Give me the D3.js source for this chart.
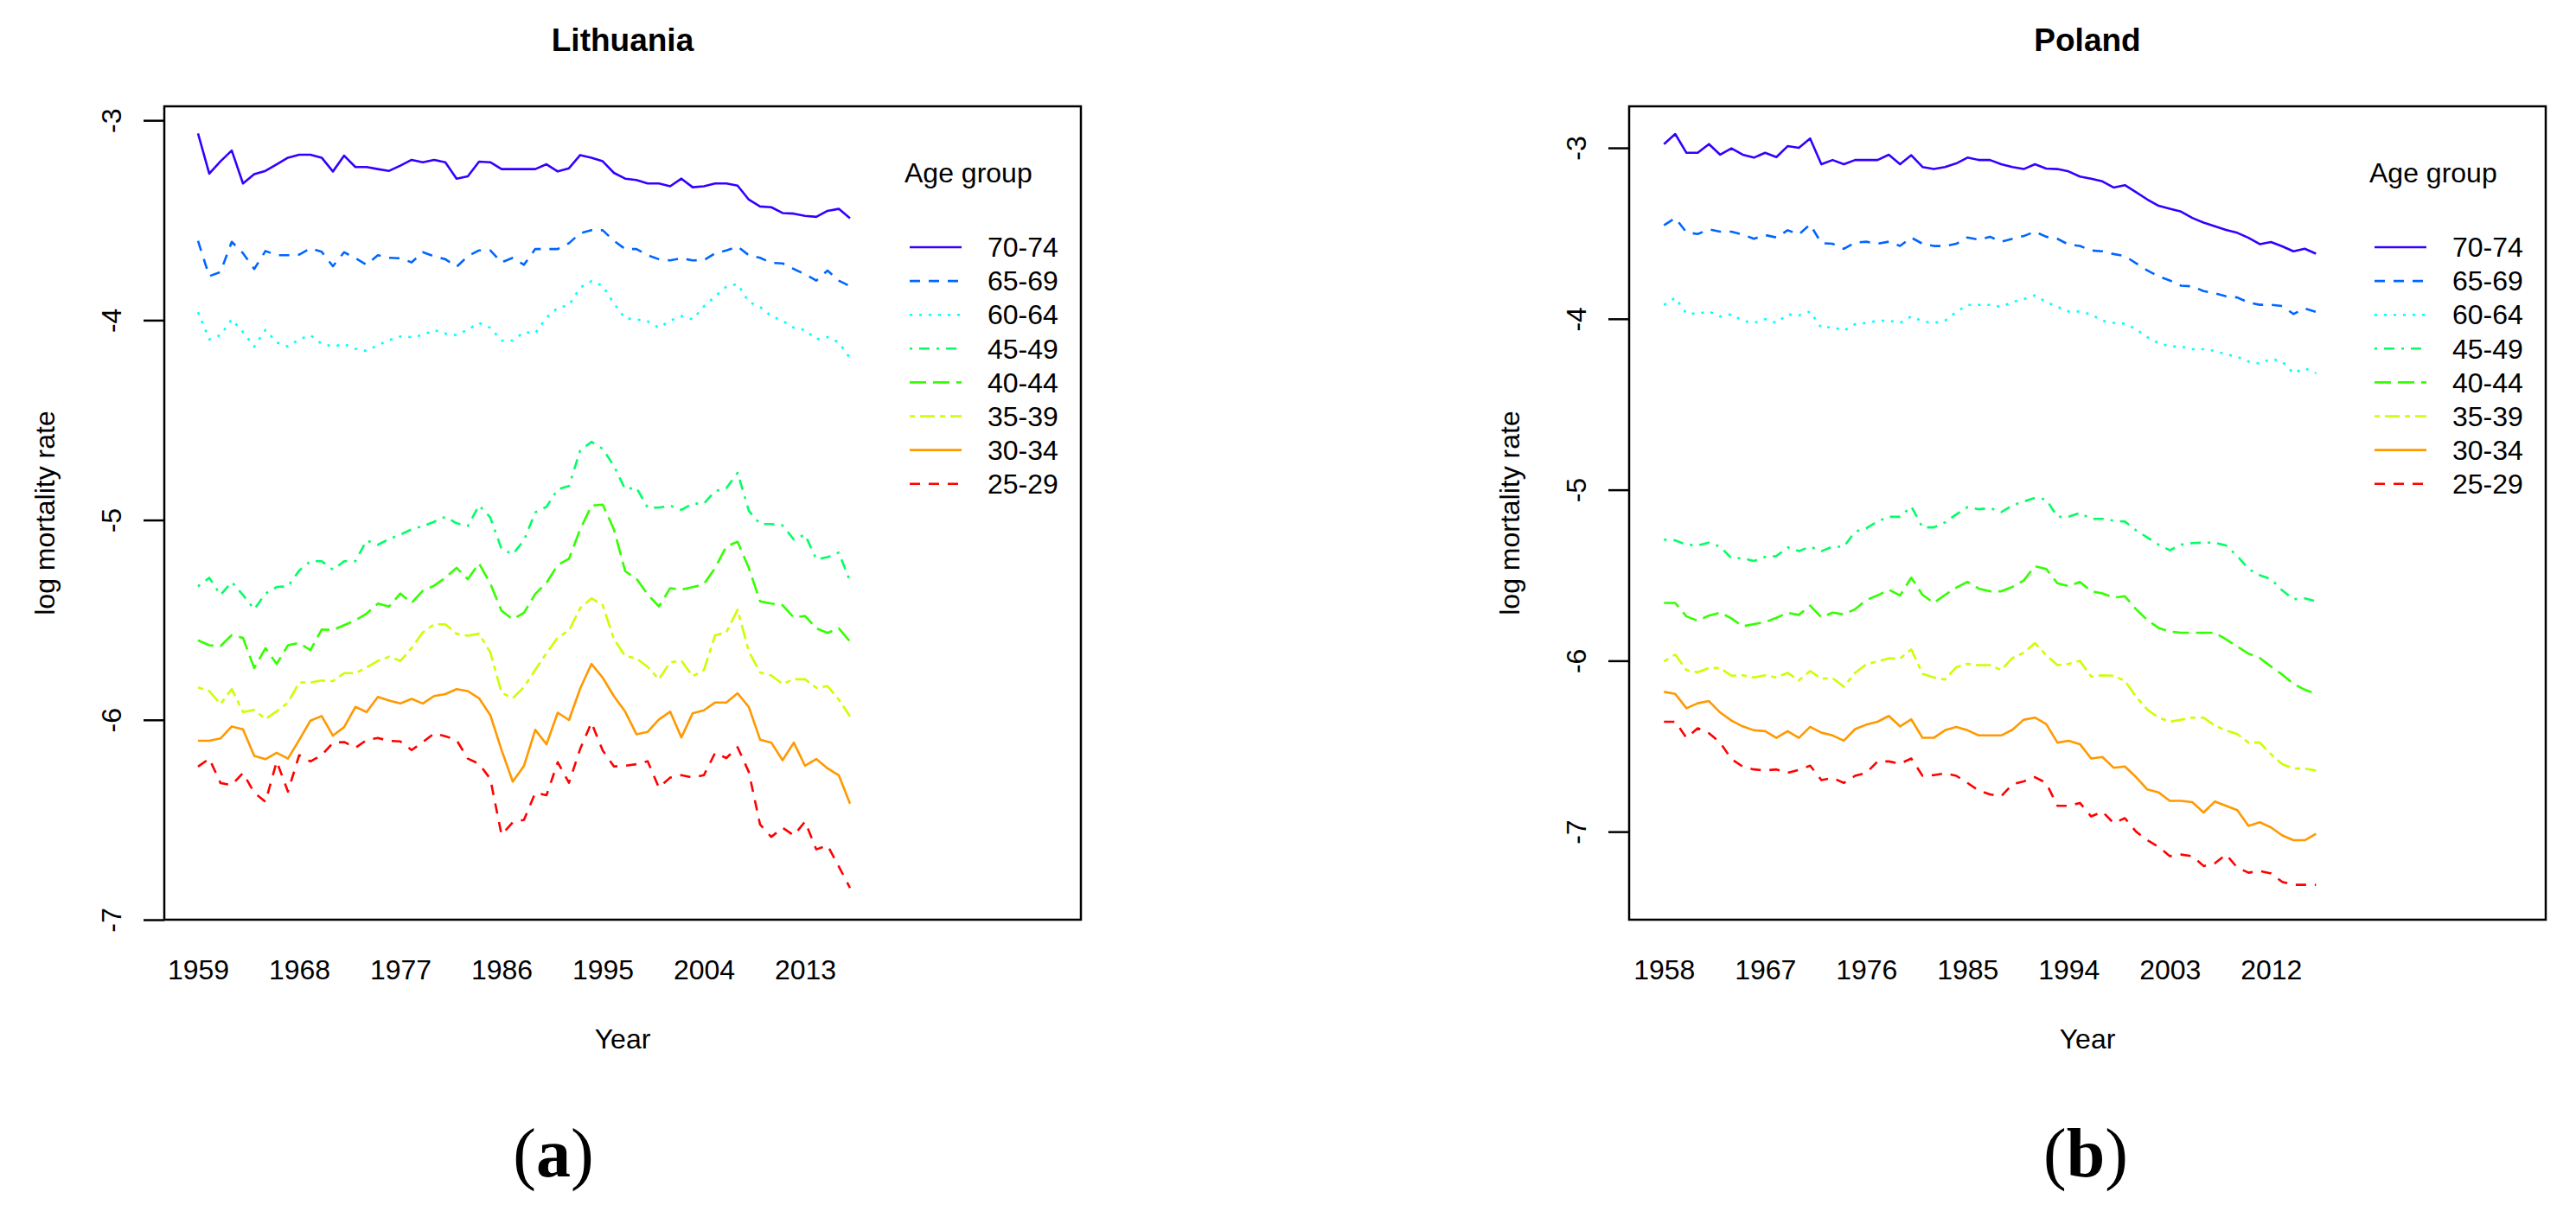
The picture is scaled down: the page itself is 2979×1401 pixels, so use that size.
<!DOCTYPE html>
<html><head><meta charset="utf-8">
<script src="https://cdn.jsdelivr.net/npm/d3@7"></script>
<style>html,body{margin:0;padding:0;background:#fff;} svg{display:block;}</style>
</head><body>
<svg id="chart" width="2979" height="1401"></svg>
<script>
// ---------- data ----------
const ageGroups = ["70-74","65-69","60-64","45-49","40-44","35-39","30-34","25-29"];
const ltYears = d3.range(1959, 2018);
const plYears = d3.range(1958, 2017);
const ltTickYears = [1959,1968,1977,1986,1995,2004,2013];
const plTickYears = [1958,1967,1976,1985,1994,2003,2012];
const yTicks = [-3,-4,-5,-6,-7];

// Lithuania 1959-2017
const lt7074 = [-3.066,-3.267,-3.205,-3.151,-3.316,-3.270,-3.253,-3.220,-3.187,-3.172,-3.172,-3.187,-3.256,-3.177,-3.234,-3.234,-3.244,-3.253,-3.227,-3.198,-3.210,-3.198,-3.210,-3.292,-3.280,-3.207,-3.210,-3.244,-3.244,-3.244,-3.244,-3.220,-3.256,-3.240,-3.174,-3.187,-3.205,-3.263,-3.292,-3.299,-3.316,-3.316,-3.330,-3.292,-3.335,-3.330,-3.316,-3.316,-3.327,-3.397,-3.431,-3.435,-3.464,-3.467,-3.478,-3.483,-3.453,-3.443,-3.490];
const lt6569 = [-3.603,-3.780,-3.759,-3.608,-3.665,-3.744,-3.654,-3.675,-3.675,-3.672,-3.641,-3.658,-3.730,-3.660,-3.690,-3.723,-3.675,-3.688,-3.690,-3.711,-3.660,-3.680,-3.695,-3.733,-3.680,-3.651,-3.651,-3.711,-3.688,-3.723,-3.644,-3.644,-3.644,-3.615,-3.565,-3.550,-3.550,-3.603,-3.644,-3.644,-3.675,-3.695,-3.701,-3.690,-3.701,-3.700,-3.665,-3.651,-3.632,-3.675,-3.688,-3.713,-3.716,-3.744,-3.770,-3.802,-3.752,-3.802,-3.830];
const lt6064 = [-3.960,-4.096,-4.075,-3.996,-4.060,-4.132,-4.049,-4.111,-4.132,-4.096,-4.075,-4.118,-4.132,-4.120,-4.143,-4.154,-4.125,-4.100,-4.082,-4.085,-4.075,-4.049,-4.067,-4.075,-4.047,-4.014,-4.038,-4.102,-4.102,-4.060,-4.065,-3.988,-3.938,-3.924,-3.837,-3.805,-3.828,-3.917,-3.991,-3.996,-4.006,-4.038,-4.003,-3.980,-3.996,-3.931,-3.881,-3.833,-3.819,-3.909,-3.934,-3.980,-4.003,-4.038,-4.049,-4.096,-4.085,-4.111,-4.190];
const lt4549 = [-5.332,-5.289,-5.375,-5.310,-5.375,-5.447,-5.368,-5.335,-5.332,-5.253,-5.206,-5.206,-5.249,-5.206,-5.206,-5.102,-5.124,-5.095,-5.073,-5.047,-5.030,-5.009,-4.984,-5.016,-5.030,-4.927,-4.987,-5.145,-5.171,-5.101,-4.962,-4.934,-4.846,-4.830,-4.652,-4.609,-4.644,-4.730,-4.846,-4.838,-4.938,-4.938,-4.928,-4.949,-4.918,-4.918,-4.856,-4.841,-4.764,-4.954,-5.020,-5.020,-5.027,-5.098,-5.073,-5.197,-5.186,-5.163,-5.305];
const lt4044 = [-5.602,-5.627,-5.631,-5.576,-5.590,-5.741,-5.641,-5.720,-5.627,-5.615,-5.651,-5.548,-5.550,-5.526,-5.502,-5.468,-5.418,-5.433,-5.368,-5.415,-5.354,-5.329,-5.289,-5.239,-5.296,-5.217,-5.318,-5.454,-5.497,-5.464,-5.370,-5.314,-5.225,-5.194,-5.047,-4.928,-4.923,-5.047,-5.256,-5.294,-5.372,-5.433,-5.341,-5.348,-5.336,-5.321,-5.240,-5.132,-5.109,-5.240,-5.407,-5.418,-5.426,-5.488,-5.480,-5.542,-5.565,-5.542,-5.608];
const lt3539 = [-5.838,-5.856,-5.921,-5.846,-5.961,-5.950,-5.996,-5.957,-5.914,-5.813,-5.813,-5.803,-5.806,-5.766,-5.766,-5.737,-5.705,-5.684,-5.705,-5.641,-5.562,-5.522,-5.522,-5.569,-5.579,-5.569,-5.662,-5.864,-5.892,-5.835,-5.750,-5.666,-5.588,-5.553,-5.441,-5.392,-5.426,-5.596,-5.681,-5.692,-5.735,-5.797,-5.712,-5.704,-5.782,-5.751,-5.577,-5.562,-5.449,-5.658,-5.763,-5.778,-5.820,-5.797,-5.797,-5.840,-5.831,-5.898,-5.983];
const lt3034 = [-6.105,-6.105,-6.093,-6.033,-6.047,-6.180,-6.197,-6.165,-6.194,-6.101,-6.004,-5.981,-6.079,-6.036,-5.935,-5.961,-5.885,-5.904,-5.918,-5.895,-5.918,-5.881,-5.871,-5.846,-5.856,-5.892,-5.976,-6.151,-6.309,-6.230,-6.050,-6.122,-5.964,-6.001,-5.843,-5.720,-5.789,-5.882,-5.959,-6.072,-6.060,-5.998,-5.959,-6.088,-5.967,-5.952,-5.913,-5.913,-5.867,-5.936,-6.099,-6.114,-6.202,-6.114,-6.230,-6.196,-6.243,-6.277,-6.419];
const lt2529 = [-6.234,-6.194,-6.316,-6.326,-6.266,-6.364,-6.410,-6.208,-6.359,-6.177,-6.208,-6.177,-6.115,-6.111,-6.140,-6.101,-6.091,-6.105,-6.108,-6.151,-6.111,-6.068,-6.082,-6.101,-6.194,-6.220,-6.295,-6.575,-6.513,-6.500,-6.365,-6.377,-6.212,-6.315,-6.145,-6.014,-6.153,-6.233,-6.230,-6.222,-6.207,-6.339,-6.289,-6.277,-6.289,-6.277,-6.165,-6.191,-6.137,-6.261,-6.524,-6.586,-6.540,-6.578,-6.509,-6.648,-6.629,-6.733,-6.841];

// Poland 1958-2016
const pl7074 = [-2.978,-2.919,-3.029,-3.029,-2.978,-3.040,-3.003,-3.040,-3.057,-3.029,-3.054,-2.990,-3.000,-2.945,-3.096,-3.071,-3.096,-3.071,-3.071,-3.071,-3.040,-3.096,-3.043,-3.112,-3.124,-3.112,-3.091,-3.057,-3.071,-3.071,-3.096,-3.112,-3.124,-3.096,-3.121,-3.124,-3.138,-3.168,-3.180,-3.196,-3.232,-3.218,-3.259,-3.302,-3.339,-3.356,-3.373,-3.410,-3.437,-3.458,-3.480,-3.497,-3.526,-3.563,-3.551,-3.576,-3.605,-3.590,-3.619];
const pl6569 = [-3.453,-3.410,-3.494,-3.504,-3.477,-3.490,-3.490,-3.507,-3.532,-3.510,-3.524,-3.482,-3.507,-3.448,-3.557,-3.561,-3.591,-3.554,-3.549,-3.561,-3.549,-3.574,-3.525,-3.561,-3.574,-3.574,-3.561,-3.524,-3.537,-3.520,-3.549,-3.532,-3.516,-3.490,-3.520,-3.532,-3.566,-3.574,-3.600,-3.605,-3.621,-3.633,-3.675,-3.717,-3.751,-3.776,-3.806,-3.810,-3.838,-3.851,-3.868,-3.875,-3.905,-3.918,-3.918,-3.925,-3.972,-3.939,-3.960];
const pl6064 = [-3.919,-3.877,-3.969,-3.969,-3.957,-3.986,-3.974,-4.011,-4.024,-4.002,-4.024,-3.974,-3.980,-3.957,-4.053,-4.048,-4.070,-4.031,-4.024,-4.011,-4.011,-4.024,-3.986,-4.014,-4.024,-4.011,-3.960,-3.919,-3.919,-3.919,-3.930,-3.902,-3.885,-3.863,-3.902,-3.930,-3.957,-3.957,-3.974,-4.011,-4.024,-4.028,-4.061,-4.108,-4.142,-4.162,-4.162,-4.178,-4.178,-4.188,-4.208,-4.222,-4.250,-4.262,-4.234,-4.250,-4.318,-4.289,-4.318];
const pl4549 = [-5.292,-5.296,-5.321,-5.326,-5.309,-5.333,-5.400,-5.400,-5.417,-5.393,-5.388,-5.337,-5.359,-5.333,-5.359,-5.333,-5.333,-5.245,-5.225,-5.186,-5.158,-5.158,-5.098,-5.220,-5.220,-5.191,-5.144,-5.102,-5.114,-5.107,-5.131,-5.091,-5.069,-5.047,-5.057,-5.158,-5.158,-5.136,-5.170,-5.170,-5.181,-5.186,-5.237,-5.279,-5.321,-5.354,-5.321,-5.312,-5.309,-5.309,-5.326,-5.388,-5.463,-5.500,-5.522,-5.589,-5.640,-5.635,-5.652];
const pl4044 = [-5.662,-5.662,-5.741,-5.766,-5.736,-5.719,-5.752,-5.799,-5.786,-5.774,-5.749,-5.719,-5.732,-5.678,-5.746,-5.719,-5.729,-5.699,-5.645,-5.618,-5.584,-5.618,-5.514,-5.615,-5.662,-5.615,-5.573,-5.539,-5.578,-5.594,-5.594,-5.568,-5.531,-5.447,-5.463,-5.547,-5.564,-5.539,-5.594,-5.606,-5.631,-5.623,-5.699,-5.762,-5.808,-5.830,-5.836,-5.836,-5.836,-5.836,-5.875,-5.917,-5.959,-5.984,-6.034,-6.081,-6.135,-6.169,-6.194];
const pl3539 = [-6.004,-5.964,-6.055,-6.068,-6.043,-6.043,-6.088,-6.085,-6.098,-6.085,-6.098,-6.071,-6.115,-6.060,-6.105,-6.102,-6.152,-6.071,-6.021,-6.004,-5.987,-5.987,-5.934,-6.076,-6.098,-6.110,-6.038,-6.018,-6.026,-6.026,-6.055,-5.984,-5.954,-5.897,-5.967,-6.026,-6.018,-6.001,-6.093,-6.085,-6.088,-6.118,-6.211,-6.286,-6.333,-6.357,-6.345,-6.333,-6.333,-6.379,-6.407,-6.429,-6.479,-6.479,-6.547,-6.605,-6.631,-6.631,-6.642];
const pl3034 = [-6.182,-6.194,-6.278,-6.249,-6.236,-6.303,-6.350,-6.384,-6.407,-6.412,-6.451,-6.412,-6.451,-6.387,-6.421,-6.437,-6.468,-6.400,-6.374,-6.357,-6.323,-6.384,-6.343,-6.451,-6.451,-6.407,-6.387,-6.407,-6.437,-6.437,-6.437,-6.404,-6.345,-6.333,-6.370,-6.479,-6.468,-6.488,-6.572,-6.563,-6.626,-6.619,-6.681,-6.753,-6.770,-6.820,-6.820,-6.827,-6.888,-6.824,-6.849,-6.874,-6.966,-6.945,-6.975,-7.022,-7.050,-7.050,-7.012];
const pl2529 = [-6.357,-6.357,-6.451,-6.395,-6.424,-6.479,-6.575,-6.619,-6.636,-6.642,-6.636,-6.656,-6.639,-6.614,-6.698,-6.686,-6.715,-6.673,-6.656,-6.589,-6.589,-6.602,-6.572,-6.673,-6.669,-6.659,-6.673,-6.715,-6.760,-6.782,-6.793,-6.723,-6.706,-6.681,-6.715,-6.849,-6.849,-6.832,-6.911,-6.883,-6.950,-6.921,-7.000,-7.050,-7.089,-7.143,-7.134,-7.143,-7.201,-7.185,-7.134,-7.210,-7.240,-7.230,-7.244,-7.294,-7.311,-7.311,-7.311];

// ---------- styles ----------
const seriesColors = ["#3300FF","#0066FF","#00FFFF","#00FF66","#33FF00","#CCFF00","#FF9900","#FF0000"];
const seriesDashes = [null,"12,10","3,8","3,8,12,8","19,8","6,6,17,6",null,"12,10"];
const SANS = "'Liberation Sans', Arial, sans-serif";
const SERIF = "'Liberation Serif', 'Times New Roman', serif";

const panels = [
  {title:"Lithuania", caption:"a", years:ltYears, ticks:ltTickYears,
   series:[lt7074,lt6569,lt6064,lt4549,lt4044,lt3539,lt3034,lt2529],
   box:{x0:190,x1:1250,y0:123,y1:1064}, xDomain:[1956,2037.54], yDomain:[-7.0,-2.930], captionX:640},
  {title:"Poland", caption:"b", years:plYears, ticks:plTickYears,
   series:[pl7074,pl6569,pl6064,pl4549,pl4044,pl3539,pl3034,pl2529],
   box:{x0:1884,x1:2944,y0:123,y1:1064}, xDomain:[1954.9,2036.44], yDomain:[-7.515,-2.757], captionX:2412}
];

const svg = d3.select("#chart");
svg.append("rect").attr("width",2979).attr("height",1401).attr("fill","#fff");

panels.forEach(p => {
  const b = p.box;
  const x = d3.scaleLinear().domain(p.xDomain).range([b.x0, b.x1]);
  const y = d3.scaleLinear().domain(p.yDomain).range([b.y1, b.y0]);
  const g = svg.append("g");

  // series lines
  const line = d3.line().x((d,i) => x(p.years[i])).y(d => y(d));
  p.series.forEach((s, k) => {
    g.append("path").datum(s)
      .attr("d", line)
      .attr("fill","none")
      .attr("stroke", seriesColors[k])
      .attr("stroke-width", 2.6)
      .attr("stroke-linejoin","round")
      .attr("stroke-dasharray", seriesDashes[k]);
  });

  // box
  g.append("rect").attr("x", b.x0).attr("y", b.y0)
    .attr("width", b.x1 - b.x0).attr("height", b.y1 - b.y0)
    .attr("fill","none").attr("stroke","#000").attr("stroke-width",2.5);

  // y axis
  const ya = g.append("g").attr("transform", `translate(${b.x0},0)`)
    .call(d3.axisLeft(y).tickValues(yTicks).tickSize(24).tickFormat(d => String(d)));
  ya.select(".domain").remove();
  ya.selectAll(".tick line").attr("stroke","#000").attr("stroke-width",2.5);
  ya.selectAll(".tick text")
    .attr("x", null).attr("dy", "0.35em").attr("text-anchor","middle")
    .attr("transform","translate(-61,0) rotate(-90)")
    .attr("font-family", SANS).attr("font-size", 32).attr("fill","#000");

  // x axis (labels only)
  const xa = g.append("g").attr("transform", `translate(0,${b.y1})`)
    .call(d3.axisBottom(x).tickValues(p.ticks).tickSize(0).tickFormat(d => String(d)));
  xa.select(".domain").remove();
  xa.selectAll(".tick line").remove();
  xa.selectAll(".tick text")
    .attr("y", 1122 - b.y1).attr("dy","0.35em")
    .attr("font-family", SANS).attr("font-size", 32).attr("fill","#000");

  const cx = (b.x0 + b.x1) / 2;
  // title
  g.append("text").attr("x", cx).attr("y", 46).attr("dy","0.35em")
    .attr("text-anchor","middle").attr("font-family", SANS)
    .attr("font-weight","bold").attr("font-size", 37).text(p.title);
  // axis titles
  g.append("text").attr("x", cx).attr("y", 1202).attr("dy","0.35em")
    .attr("text-anchor","middle").attr("font-family", SANS)
    .attr("font-size", 32).text("Year");
  g.append("text").attr("transform", `translate(${b.x0 - 138},${(b.y0 + b.y1) / 2}) rotate(-90)`)
    .attr("dy","0.35em").attr("text-anchor","middle").attr("font-family", SANS)
    .attr("font-size", 32).text("log mortality rate");

  // legend
  const lg = g.append("g");
  lg.append("text").attr("x", b.x0 + 856).attr("y", 200).attr("dy","0.35em")
    .attr("font-family", SANS).attr("font-size", 32).text("Age group");
  ageGroups.forEach((a, k) => {
    const ly = 286 + k * 39.1;
    lg.append("line").attr("x1", b.x0 + 862).attr("x2", b.x0 + 922)
      .attr("y1", ly).attr("y2", ly)
      .attr("stroke", seriesColors[k]).attr("stroke-width", 2.6)
      .attr("stroke-dasharray", seriesDashes[k]);
    lg.append("text").attr("x", b.x0 + 952).attr("y", ly).attr("dy","0.35em")
      .attr("font-family", SANS).attr("font-size", 32).text(a);
  });

  // caption
  const cap = svg.append("text").attr("x", p.captionX).attr("y", 1361)
    .attr("text-anchor","middle").attr("font-family", SERIF).attr("font-size", 80);
  cap.append("tspan").text("(");
  cap.append("tspan").attr("font-weight","bold").text(p.caption);
  cap.append("tspan").text(")");
});
</script>
</body></html>
